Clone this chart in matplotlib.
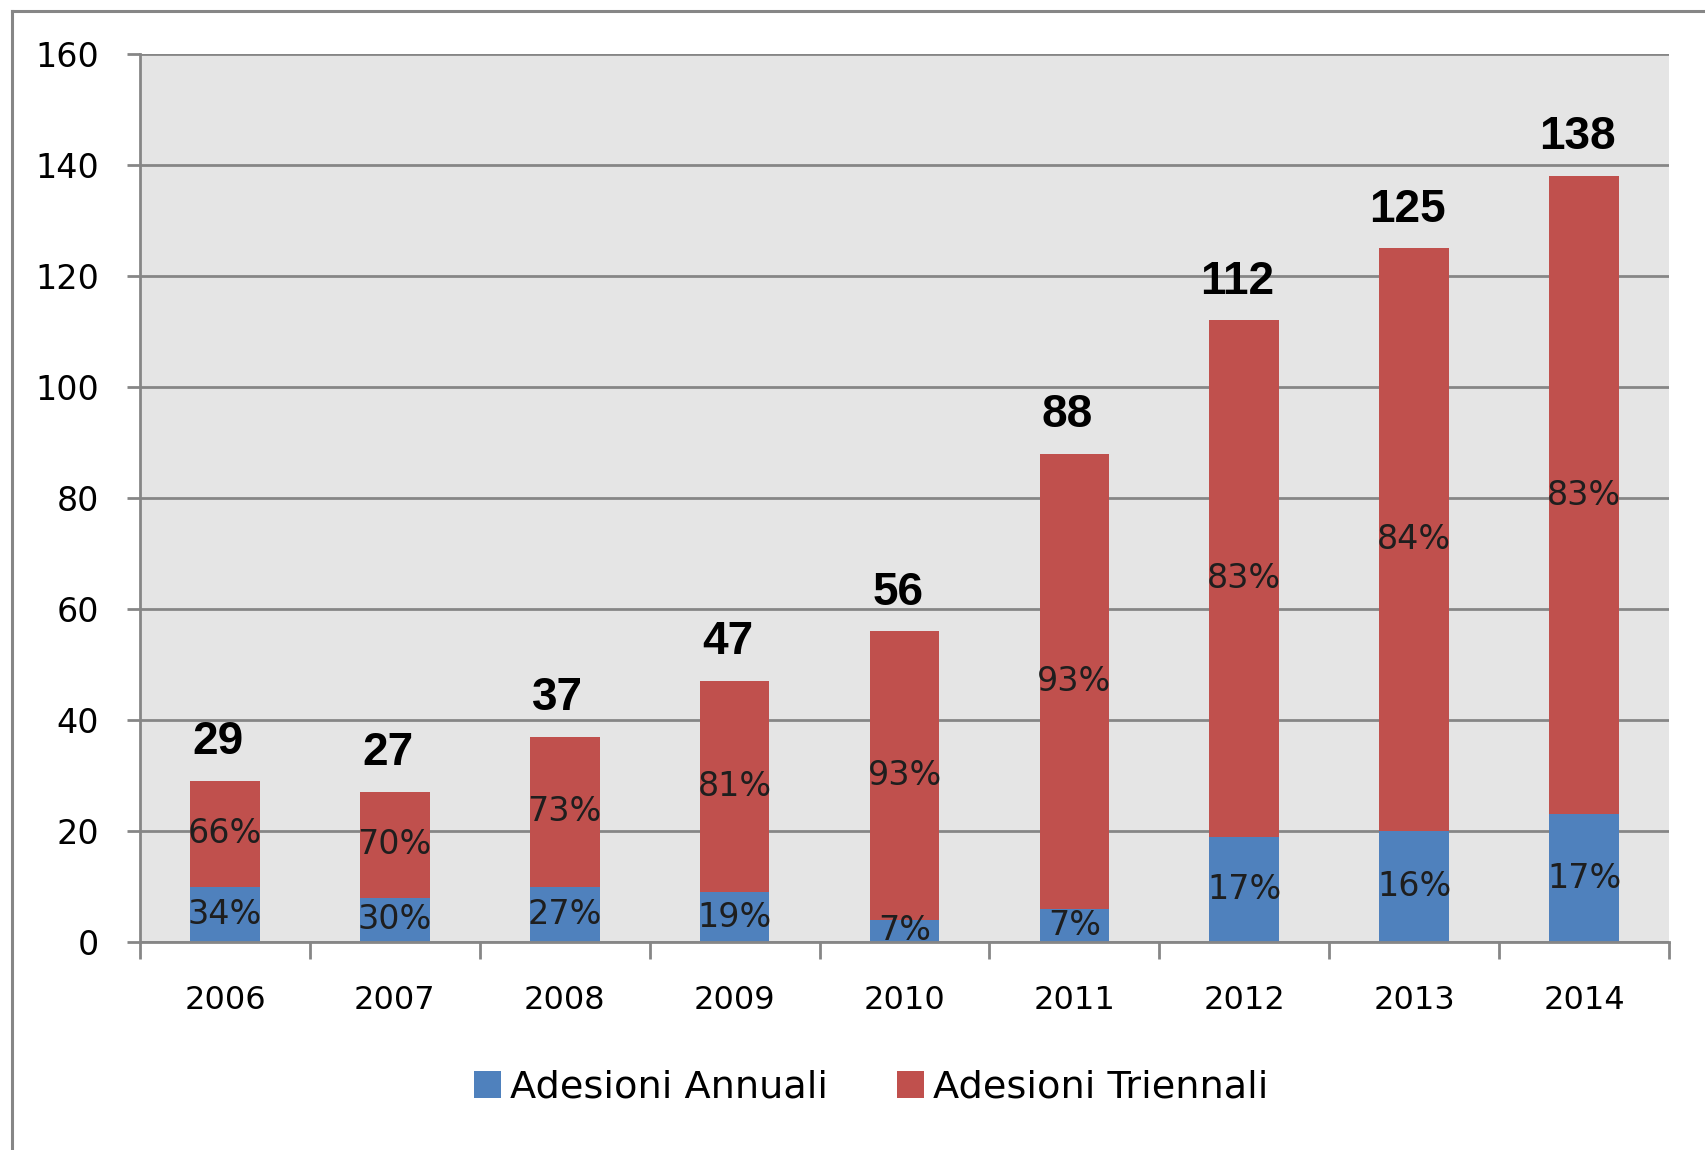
import matplotlib
matplotlib.use("Agg")
import matplotlib.pyplot as plt
from matplotlib.patches import Patch
from matplotlib.lines import Line2D
import numpy as np

years = ["2006", "2007", "2008", "2009", "2010", "2011", "2012", "2013", "2014"]
annuali = [10, 8, 10, 9, 4, 6, 19, 20, 23]
triennali = [19, 19, 27, 38, 52, 82, 93, 105, 115]
totali = [29, 27, 37, 47, 56, 88, 112, 125, 138]
pct_annuali = ["34%", "30%", "27%", "19%", "7%", "7%", "17%", "16%", "17%"]
pct_triennali = ["66%", "70%", "73%", "81%", "93%", "93%", "83%", "84%", "83%"]
y_ticks = [0, 20, 40, 60, 80, 100, 120, 140, 160]

BLUE = "#4F81BD"
RED = "#C0504D"
GRID = "#868686"
BG = "#E5E5E5"

W, H = 1705, 1150
fig = plt.figure(figsize=(W / 100, H / 100), dpi=100)
ax = fig.add_axes([140 / W, 1 - 942 / H, (1669 - 140) / W, (942 - 54) / H])
ax.set_facecolor(BG)

x = np.arange(len(years))
bw = 0.41
ax.bar(x, annuali, bw, color=BLUE, zorder=3, label="Adesioni Annuali")
ax.bar(x, triennali, bw, bottom=annuali, color=RED, zorder=3, label="Adesioni Triennali")

ax.set_xlim(-0.5, len(years) - 0.5)
ax.set_ylim(0, 160)
ax.set_yticks(y_ticks)
ax.set_yticklabels([str(v) for v in y_ticks])
ax.yaxis.grid(True, color=GRID, lw=2.0, zorder=1)
ax.set_axisbelow(True)

ax.set_xticks(x)
ax.set_xticklabels(years)
ax.set_xticks(np.arange(len(years) + 1) - 0.5, minor=True)
ax.tick_params(axis="x", which="major", length=0, pad=31, labelsize=23, colors="black")
ax.tick_params(axis="x", which="minor", length=12.5, width=2.0, color=GRID, direction="out")
ax.tick_params(axis="y", which="major", length=9.5, width=2.0, color=GRID, pad=20,
               labelsize=24, labelcolor="black")

for s in ["top", "right"]:
    ax.spines[s].set_visible(False)
for s in ["left", "bottom"]:
    ax.spines[s].set_color(GRID)
    ax.spines[s].set_linewidth(2.0)
    ax.spines[s].set_zorder(4)

for i in range(len(years)):
    ax.text(x[i], annuali[i] / 2, pct_annuali[i], ha="center", va="center",
            fontsize=24, color="#1e1e1e", zorder=5, clip_on=False)
    ax.text(x[i], annuali[i] + triennali[i] / 2, pct_triennali[i], ha="center", va="center",
            fontsize=24, color="#1e1e1e", zorder=5)
    ax.annotate(str(totali[i]), (x[i] - 0.04, totali[i]), xytext=(0, 12),
                textcoords="offset points", ha="center", va="bottom",
                fontsize=33, fontweight="bold", family="Liberation Sans",
                color="black", zorder=5)

handles = [Patch(facecolor=BLUE, edgecolor="none"), Patch(facecolor=RED, edgecolor="none")]
fig.legend(handles, ["Adesioni Annuali", "Adesioni Triennali"], loc="center",
           bbox_to_anchor=(0.511, 1 - 1088 / H), ncol=2, frameon=False, fontsize=27.5,
           handlelength=0.7, handleheight=0.7, handletextpad=0.25, columnspacing=1.8)

# outer border (left and top visible)
fig.add_artist(Line2D([12 / W, 12 / W], [0, 1 - 11 / H], transform=fig.transFigure,
                      color=GRID, lw=2.2))
fig.add_artist(Line2D([12 / W, 1], [1 - 11 / H, 1 - 11 / H], transform=fig.transFigure,
                      color=GRID, lw=2.2))

fig.savefig("out.png", dpi=100, facecolor="white")
